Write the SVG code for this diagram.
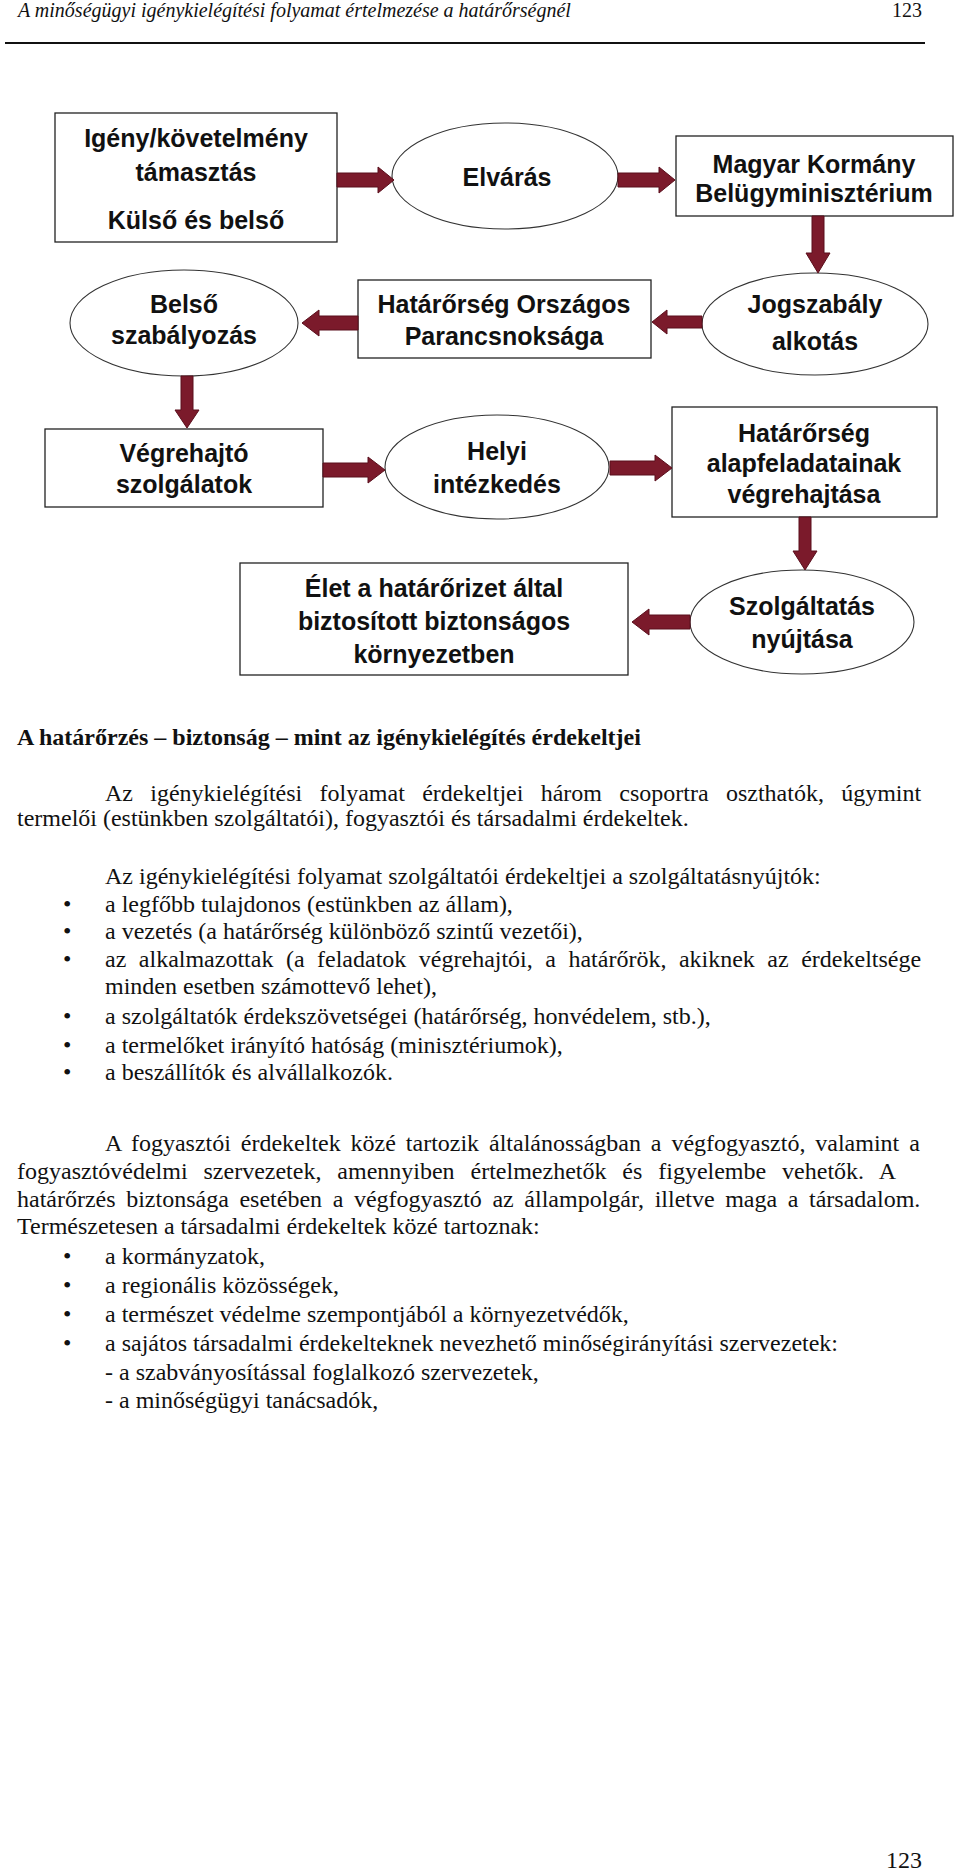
<svg xmlns="http://www.w3.org/2000/svg" width="960" height="1873" viewBox="0 0 960 1873">
<style>
.bg{fill:#fff}
.box{fill:#fff;stroke:#222;stroke-width:1.3}
.ell{fill:#fff;stroke:#333;stroke-width:1.1}
.nt{font-family:"Liberation Sans",Arial,sans-serif;font-weight:bold;font-size:25px;fill:#111;text-anchor:middle}
.arr{fill:#7b1a2b;stroke:#5a0f1c;stroke-width:1}
.hdr{font-family:"Liberation Serif","Times New Roman",serif;font-style:italic;font-size:20px;fill:#111}
.pn{font-family:"Liberation Serif","Times New Roman",serif;font-size:20px;fill:#111}
.body{font-family:"Liberation Serif","Times New Roman",serif;font-size:24px;fill:#111}
.ttl{font-family:"Liberation Serif","Times New Roman",serif;font-size:24px;font-weight:bold;fill:#111}
</style>
<rect class="bg" x="0" y="0" width="960" height="1873"/>

<g id="header">
<text class="hdr" x="18" y="17">A minőségügyi igénykielégítési folyamat értelmezése a határőrségnél</text>
<text class="pn" x="922" y="17" text-anchor="end">123</text>
<line x1="5" y1="43" x2="925" y2="43" stroke="#111" stroke-width="2"/>
</g>

<g id="n1">
<rect class="box" x="55" y="113" width="282" height="129"/>
<text class="nt" x="196" y="147">Igény/követelmény</text>
<text class="nt" x="196" y="181">támasztás</text>
<text class="nt" x="196" y="229">Külső és belső</text>
</g>
<g id="n2">
<ellipse class="ell" cx="505" cy="176" rx="113" ry="53"/>
<text class="nt" x="507" y="186">Elvárás</text>
</g>
<g id="n3">
<rect class="box" x="676" y="136" width="277" height="80"/>
<text class="nt" x="814" y="173">Magyar Kormány</text>
<text class="nt" x="814" y="202">Belügyminisztérium</text>
</g>
<g id="n4">
<ellipse class="ell" cx="815" cy="324" rx="113" ry="51"/>
<text class="nt" x="815" y="313">Jogszabály</text>
<text class="nt" x="815" y="350">alkotás</text>
</g>
<g id="n5">
<rect class="box" x="358" y="280" width="293" height="78"/>
<text class="nt" x="504" y="313">Határőrség Országos</text>
<text class="nt" x="504" y="345">Parancsnoksága</text>
</g>
<g id="n6">
<ellipse class="ell" cx="184" cy="323" rx="114" ry="53"/>
<text class="nt" x="184" y="313">Belső</text>
<text class="nt" x="184" y="344">szabályozás</text>
</g>
<g id="n7">
<rect class="box" x="45" y="429" width="278" height="78"/>
<text class="nt" x="184" y="462">Végrehajtó</text>
<text class="nt" x="184" y="493">szolgálatok</text>
</g>
<g id="n8">
<ellipse class="ell" cx="497" cy="467" rx="112" ry="52"/>
<text class="nt" x="497" y="460">Helyi</text>
<text class="nt" x="497" y="493">intézkedés</text>
</g>
<g id="n9">
<rect class="box" x="672" y="407" width="265" height="110"/>
<text class="nt" x="804" y="442">Határőrség</text>
<text class="nt" x="804" y="472">alapfeladatainak</text>
<text class="nt" x="804" y="503">végrehajtása</text>
</g>
<g id="n10">
<ellipse class="ell" cx="802" cy="622" rx="112" ry="52"/>
<text class="nt" x="802" y="615">Szolgáltatás</text>
<text class="nt" x="802" y="648">nyújtása</text>
</g>
<g id="n11">
<rect class="box" x="240" y="563" width="388" height="112"/>
<text class="nt" x="434" y="597">Élet a határőrizet által</text>
<text class="nt" x="434" y="630">biztosított biztonságos</text>
<text class="nt" x="434" y="663">környezetben</text>
</g>

<g id="connectors">
<polygon class="arr" points="337,173 378,173 378,167 394,180 378,193 378,187 337,187"/>
<polygon class="arr" points="618,173 659,173 659,167 675,180 659,193 659,187 618,187"/>
<polygon class="arr" points="812,216 824,216 824,253 830,253 818,273 806,253 812,253"/>
<polygon class="arr" points="702,316 667,316 667,310 652,322 667,334 667,328 702,328"/>
<polygon class="arr" points="358,316 319,316 319,310 302,323 319,336 319,330 358,330"/>
<polygon class="arr" points="181,376 193,376 193,410 199,410 187,428 175,410 181,410"/>
<polygon class="arr" points="323,463 368,463 368,457 385,470 368,483 368,477 323,477"/>
<polygon class="arr" points="610,461 655,461 655,455 672,468 655,481 655,475 610,475"/>
<polygon class="arr" points="799,517 811,517 811,551 817,551 805,570 793,551 799,551"/>
<polygon class="arr" points="690,615 649,615 649,609 632,622 649,635 649,629 690,629"/>
</g>

<g id="bodytext">
<text class="ttl" x="17" y="745">A határőrzés – biztonság – mint az igénykielégítés érdekeltjei</text>
<text class="body" x="105" y="801" word-spacing="11.3">Az igénykielégítési folyamat érdekeltjei három csoportra oszthatók, úgymint</text>
<text class="body" x="17" y="826">termelői (estünkben szolgáltatói), fogyasztói és társadalmi érdekeltek.</text>
<text class="body" x="105" y="884">Az igénykielégítési folyamat szolgáltatói érdekeltjei a szolgáltatásnyújtók:</text>
<text class="body" x="63" y="912">•</text>
<text class="body" x="105" y="912">a legfőbb tulajdonos (estünkben az állam),</text>
<text class="body" x="63" y="939">•</text>
<text class="body" x="105" y="939">a vezetés (a határőrség különböző szintű vezetői),</text>
<text class="body" x="63" y="967">•</text>
<text class="body" x="105" y="967" word-spacing="6.5">az alkalmazottak (a feladatok végrehajtói, a határőrök, akiknek az érdekeltsége</text>
<text class="body" x="105" y="994">minden esetben számottevő lehet),</text>
<text class="body" x="63" y="1024">•</text>
<text class="body" x="105" y="1024">a szolgáltatók érdekszövetségei (határőrség, honvédelem, stb.),</text>
<text class="body" x="63" y="1053">•</text>
<text class="body" x="105" y="1053">a termelőket irányító hatóság (minisztériumok),</text>
<text class="body" x="63" y="1080">•</text>
<text class="body" x="105" y="1080">a beszállítók és alvállalkozók.</text>
<text class="body" x="105" y="1151" word-spacing="3.9">A fogyasztói érdekeltek közé tartozik általánosságban a végfogyasztó, valamint a</text>
<text class="body" x="17" y="1179" word-spacing="9.9">fogyasztóvédelmi szervezetek, amennyiben értelmezhetők és figyelembe vehetők. A</text>
<text class="body" x="17" y="1207" word-spacing="4.6">határőrzés biztonsága esetében a végfogyasztó az állampolgár, illetve maga a társadalom.</text>
<text class="body" x="17" y="1234">Természetesen a társadalmi érdekeltek közé tartoznak:</text>
<text class="body" x="63" y="1264">•</text>
<text class="body" x="105" y="1264">a kormányzatok,</text>
<text class="body" x="63" y="1293">•</text>
<text class="body" x="105" y="1293">a regionális közösségek,</text>
<text class="body" x="63" y="1322">•</text>
<text class="body" x="105" y="1322">a természet védelme szempontjából a környezetvédők,</text>
<text class="body" x="63" y="1351">•</text>
<text class="body" x="105" y="1351">a sajátos társadalmi érdekelteknek nevezhető minőségirányítási szervezetek:</text>
<text class="body" x="105" y="1380">- a szabványosítással foglalkozó szervezetek,</text>
<text class="body" x="105" y="1408">- a minőségügyi tanácsadók,</text>
<text class="body" x="922" y="1868" text-anchor="end">123</text>
</g>
</svg>
